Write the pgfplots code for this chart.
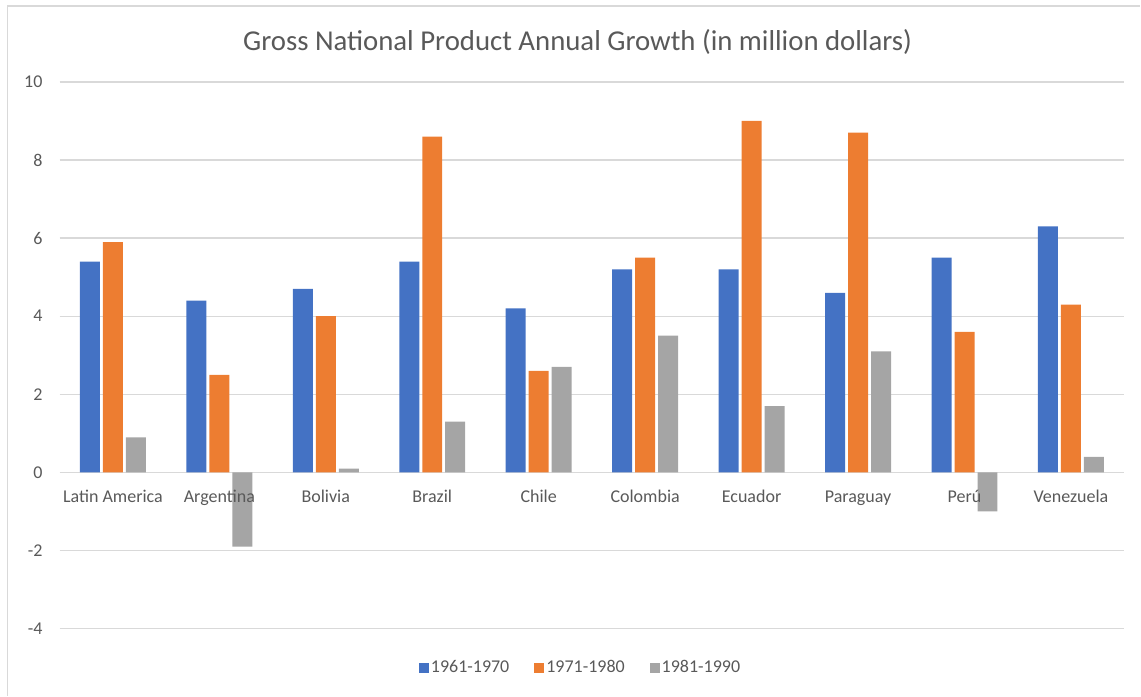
\documentclass[border=0pt]{standalone}
\usepackage{pgfplots}
\pgfplotsset{compat=1.18}
\usepackage{fontspec}
\setmainfont{Carlito}
\definecolor{cblue}{HTML}{4472C4}
\definecolor{corange}{HTML}{ED7D31}
\definecolor{cgray}{HTML}{A5A5A5}
\definecolor{gridc}{HTML}{D9D9D9}
\definecolor{txt}{HTML}{595959}
\pgfplotsset{
  layers/mine/.define layer set={
    axis background,axis grid,axis ticks,axis lines,pre main,main,axis tick labels,axis descriptions,axis foreground
  }{
    grid style={/pgfplots/on layer=axis grid},
    tick style={/pgfplots/on layer=axis ticks},
    axis line style={/pgfplots/on layer=axis lines},
    label style={/pgfplots/on layer=axis descriptions},
    legend style={/pgfplots/on layer=axis descriptions},
    title style={/pgfplots/on layer=axis descriptions},
    colorbar style={/pgfplots/on layer=axis descriptions},
    ticklabel style={/pgfplots/on layer=axis tick labels},
    axis background@ style={/pgfplots/on layer=axis background},
    3d box foreground style={/pgfplots/on layer=axis foreground},
  },
}
\begin{document}
\begin{tikzpicture}[x=1pt,y=1pt]
\path (0,0) rectangle (1141,696);
\draw[gridc, line width=1.5pt] (7.5,0) -- (7.5,690) -- (1141,690);
\node[text=txt, font=\fontsize{28.8}{34}\selectfont, anchor=center] at (578,654) {Gross National Product Annual Growth (in million dollars)};
\begin{axis}[
  at={(59.7pt,67pt)}, anchor=south west,
  scale only axis, width=1065.3pt, height=547pt,
  set layers=mine,
  ybar=3pt, bar width=20pt,
  xmin=-0.5, xmax=9.5, ymin=-4, ymax=10,
  ytick={-4,-2,0,2,4,6,8,10},
  xtick=data,
  xticklabels={Latin America,Argentina,Bolivia,Brazil,Chile,Colombia,Ecuador,Paraguay,Perú,Venezuela},
  axis x line=middle, axis y line=left,
  axis line style={draw=none,-},
  major tick length=0pt,
  ymajorgrids, grid style={gridc, line width=1.3pt},
  /pgf/number format/assume math mode=true,
  ticklabel style={text=txt, font=\fontsize{18}{21}\selectfont},
  yticklabel style={anchor=east, inner sep=0pt, xshift=-17pt},
  xticklabel style={anchor=base, inner sep=0pt, yshift=-30pt},
  legend columns=3,
  legend style={at={(0.4893,-0.0713)}, anchor=center, draw=none, fill=none,
    font=\fontsize{18}{21}\selectfont, text=txt,
    /tikz/every even column/.append style={column sep=23pt}},
  legend image code/.code={\fill[#1] (0pt,-5pt) rectangle (10pt,5pt);},
]
\addplot[fill=cblue, draw=none] coordinates {(0,5.4) (1,4.4) (2,4.7) (3,5.4) (4,4.2) (5,5.2) (6,5.2) (7,4.6) (8,5.5) (9,6.3)};
\addplot[fill=corange, draw=none] coordinates {(0,5.9) (1,2.5) (2,4.0) (3,8.6) (4,2.6) (5,5.5) (6,9.0) (7,8.7) (8,3.6) (9,4.3)};
\addplot[fill=cgray, draw=none] coordinates {(0,0.9) (1,-1.9) (2,0.1) (3,1.3) (4,2.7) (5,3.5) (6,1.7) (7,3.1) (8,-1.0) (9,0.4)};
\legend{1961-1970,1971-1980,1981-1990}
\end{axis}
\end{tikzpicture}
\end{document}
